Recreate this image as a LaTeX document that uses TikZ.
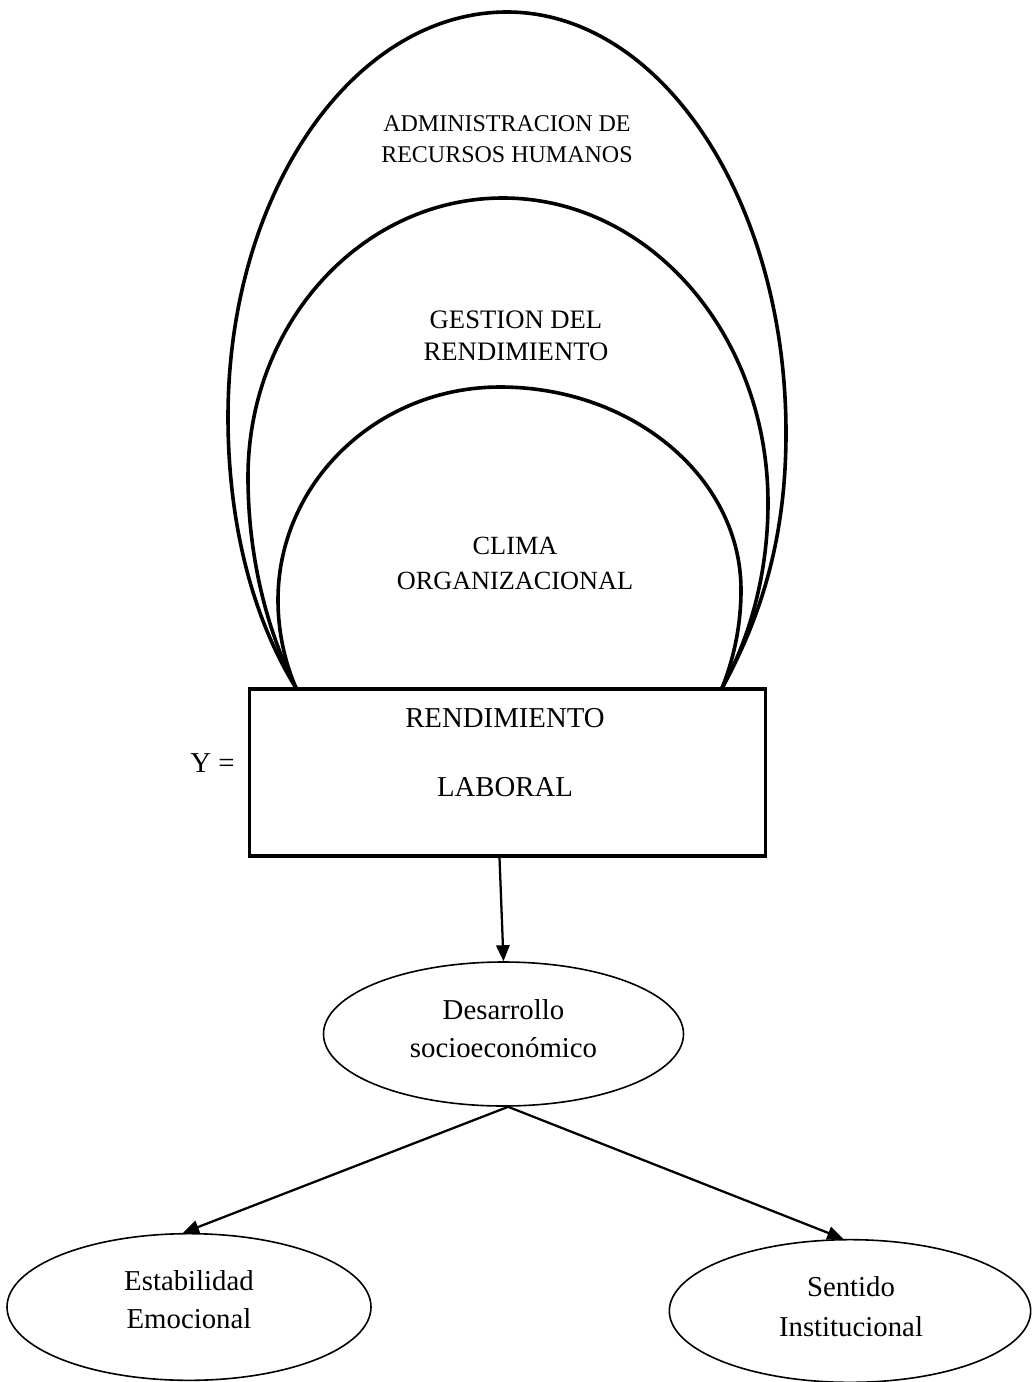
\documentclass[tikz,border=0pt]{standalone}
\usepackage{fontspec}
\setmainfont{Liberation Serif}
\usetikzlibrary{arrows.meta,shapes.geometric}
\tikzset{
  arch/.style={line width=2.7pt},
  oval/.style={ellipse,draw,line width=1.2pt,inner sep=0pt},
  frame/.style={rectangle,draw,line width=2.7pt,inner sep=0pt},
  lbl/.style={align=center,inner sep=0pt},
  big/.style={font=\fontsize{21.6}{28.5}\selectfont},
  arr/.style={line width=1.7pt,-{Triangle[length=12pt,width=10pt]}}
}
\begin{document}
\begin{tikzpicture}[x=0.75pt,y=-0.75pt]
\useasboundingbox (0,0) rectangle (1033,1382);
% arches
\draw[arch] (296,688) .. controls (250,614) and (228,517) .. (228,417)
  .. controls (228,193.3) and (352.9,12) .. (507,12)
  .. controls (661.1,12) and (786,200.5) .. (786,433)
  .. controls (786,532) and (764,612) .. (722,688);
\draw[arch] (296,688) .. controls (265,627) and (248,552) .. (248,477)
  .. controls (248,323) and (362,198) .. (503,198)
  .. controls (649.4,198) and (768,334.6) .. (768,503)
  .. controls (768,569) and (752,634) .. (722,688);
\draw[arch] (296,688) .. controls (284,660) and (278,630) .. (278,600)
  .. controls (278,482.4) and (377.4,387) .. (500,387)
  .. controls (633.1,387) and (741,477.9) .. (741,590)
  .. controls (741,623.5) and (734.5,657) .. (722,688);
% arch labels
\node[lbl,font=\fontsize{18}{23.25}\selectfont] (adm) at (507,139) {ADMINISTRACION DE\\RECURSOS HUMANOS};
\node[lbl,font=\fontsize{20}{24}\selectfont] (ges) at (516,336) {GESTION DEL\\RENDIMIENTO};
\node[lbl,font=\fontsize{19.7}{26.25}\selectfont] (cli) at (515,563) {CLIMA\\ORGANIZACIONAL};
% box
\node[frame,minimum width=387pt,minimum height=125pt] (box) at (507.5,772.5) {};
\node[lbl,font=\fontsize{21.6}{51.75}\selectfont] (boxtext) at (505,753) {RENDIMIENTO\\LABORAL};
\node[lbl,big,anchor=east] (yeq) at (235,763) {Y =};
% ellipses
\node[oval,minimum width=270pt,minimum height=108pt] (des) at (503.5,1034) {};
\node[lbl,big] (destext) at (503.5,1029) {Desarrollo\\socioeconómico};
\node[oval,minimum width=273pt,minimum height=110pt] (est) at (189,1307) {};
\node[lbl,big] (esttext) at (189,1300) {Estabilidad\\Emocional};
\node[oval,minimum width=271pt,minimum height=107pt] (sen) at (850,1311) {};
\node[lbl,big,font=\fontsize{21.6}{30}\selectfont] (sentext) at (851,1307) {Sentido\\Institucional};
% connectors
\draw[arr] ([xshift=-6pt]box.south) -- (des.north);
\draw[arr] ([xshift=3.5pt]des.south) -- ([xshift=-4.5pt]est.north);
\draw[arr] ([xshift=3.5pt]des.south) -- ([xshift=-5pt]sen.north);
\end{tikzpicture}
\end{document}
